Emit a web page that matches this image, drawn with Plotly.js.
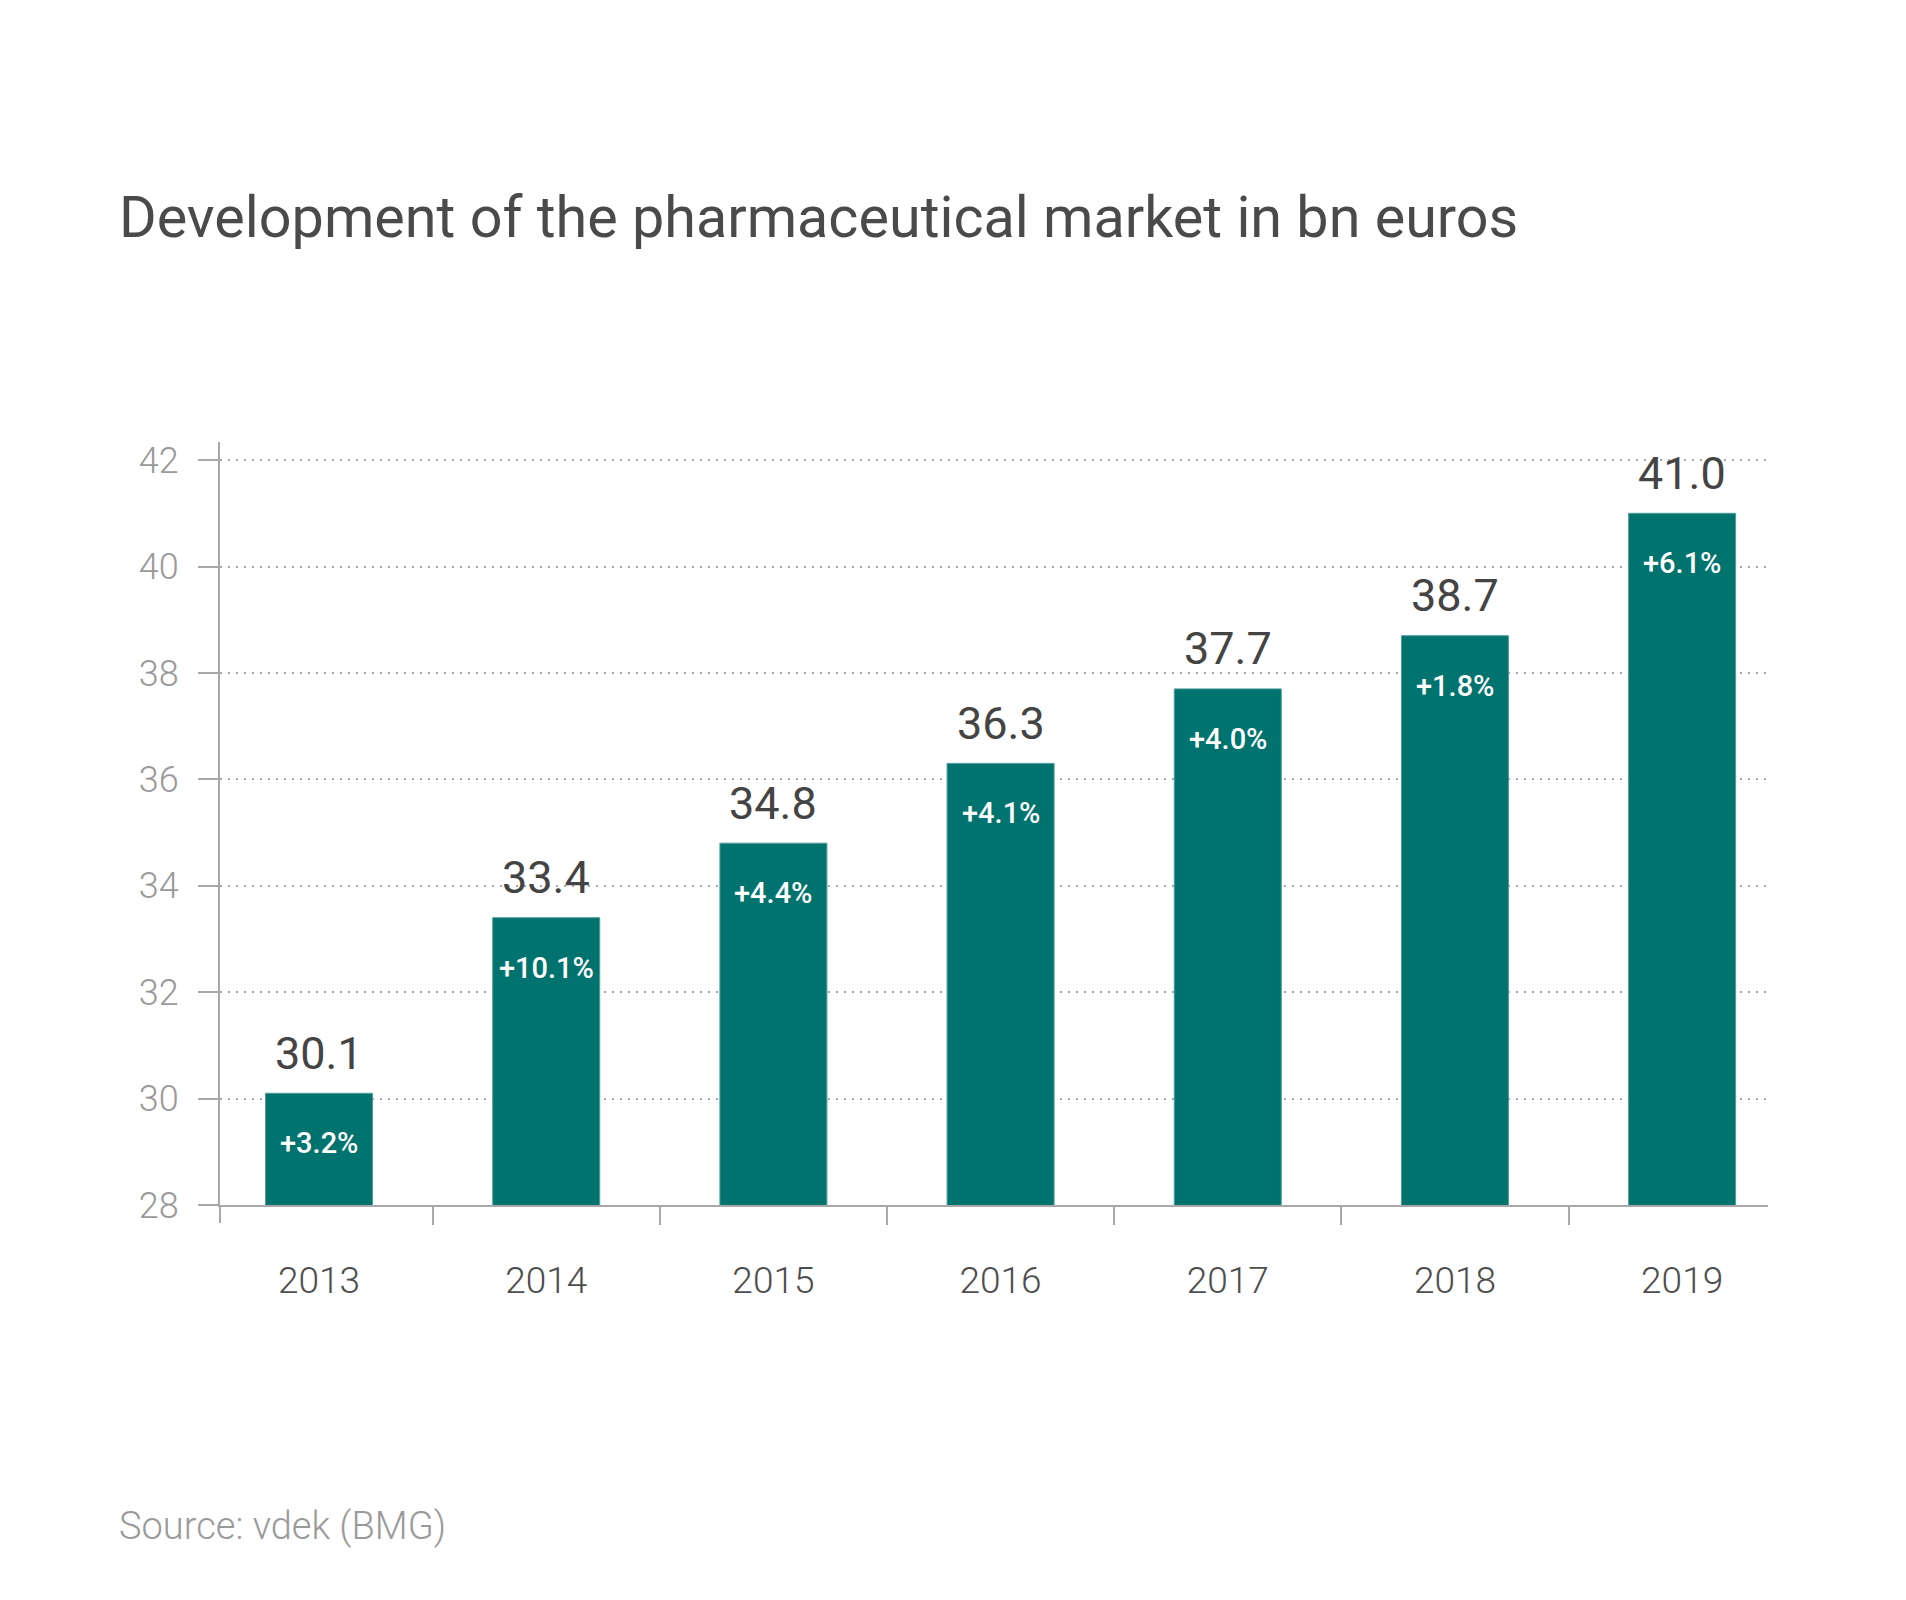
<!DOCTYPE html>
<html>
<head>
<meta charset="utf-8">
<script src="https://cdn.plot.ly/plotly-3.0.1.min.js"></script>
<style>
  html, body { margin: 0; padding: 0; background: #ffffff; }
  #chart { width: 1906px; height: 1600px; }
</style>
</head>
<body>
<div id="chart"></div>
<script>
// ---- data ----
const years = ['2013', '2014', '2015', '2016', '2017', '2018', '2019'];
const values = [30.1, 33.4, 34.8, 36.3, 37.7, 38.7, 41.0];
const growth = ['+3.2%', '+10.1%', '+4.4%', '+4.1%', '+4.0%', '+1.8%', '+6.1%'];
const yTicks = [28, 30, 32, 34, 36, 38, 40, 42];
const titleText = 'Development of the pharmaceutical market in bn euros';
const sourceText = 'Source: vdek (BMG)';

// ---- styles ----
const FONT = 'Roboto, "Noto Sans", sans-serif';
const TEAL = '#00736f';
const AXIS = '#a8a8a8';

const trace = {
  type: 'bar',
  x: years,
  y: values,
  width: 0.471,
  marker: { color: TEAL, line: { color: '#4f9d99', width: 1 } },
  hoverinfo: 'skip'
};

const annotations = [];
years.forEach((yr, i) => {
  // category axes place annotations by category index
  annotations.push({
    x: i, y: values[i], xref: 'x', yref: 'y',
    text: values[i].toFixed(1),
    showarrow: false, xanchor: 'center', yanchor: 'middle', yshift: 40,
    font: { family: FONT, size: 45, color: '#444444', weight: 400 }
  });
  annotations.push({
    x: i, y: values[i], xref: 'x', yref: 'y',
    text: growth[i],
    showarrow: false, xanchor: 'center', yanchor: 'middle', yshift: -50,
    font: { family: FONT, size: 29, color: '#ffffff', weight: 500 }
  });
});
annotations.push({
  x: (117 - 220) / 1548, y: (1205 - 1526) / 763, xref: 'paper', yref: 'paper',
  text: sourceText, showarrow: false, xanchor: 'left', yanchor: 'middle',
  font: { family: FONT, size: 38, color: '#9a9a9a', weight: 300 }
});

const layout = {
  width: 1906,
  height: 1600,
  margin: { l: 220, r: 138, t: 442, b: 395, pad: 0 },
  paper_bgcolor: '#ffffff',
  plot_bgcolor: '#ffffff',
  showlegend: false,
  title: {
    text: titleText,
    xref: 'container', yref: 'container',
    x: 119 / 1906, xanchor: 'left',
    y: 1 - 217 / 1600, yanchor: 'middle',
    font: { family: FONT, size: 57.5, color: '#4a4a4a', weight: 400 }
  },
  xaxis: {
    type: 'category',
    range: [-0.436, 6.378],
    showline: true, linecolor: AXIS, linewidth: 2,
    ticks: 'outside', tickson: 'boundaries', ticklen: 18, tickwidth: 2, tickcolor: AXIS,
    ticklabelstandoff: 42,
    tickfont: { family: FONT, size: 37, color: '#4d4d4d', weight: 300 },
    showgrid: false, zeroline: false, fixedrange: true
  },
  yaxis: {
    range: [28, 42.34],
    tickvals: yTicks,
    ticktext: yTicks.map(String),
    showline: true, linecolor: AXIS, linewidth: 2,
    ticks: 'outside', ticklen: 20, tickwidth: 2, tickcolor: AXIS,
    ticklabelstandoff: 12,
    tickfont: { family: FONT, size: 36, color: '#999999', weight: 300 },
    showgrid: true, gridcolor: '#a6a6a6', gridwidth: 2, griddash: '2px,6px',
    zeroline: false, fixedrange: true
  },
  shapes: [
    { type: 'line', xref: 'paper', yref: 'paper', x0: -15 / 1548, x1: 0, y0: 0, y1: 0,
      line: { color: AXIS, width: 2 } },
    { type: 'line', xref: 'paper', yref: 'paper', x0: 0, x1: 0, y0: 0, y1: -18 / 763,
      line: { color: AXIS, width: 2 } }
  ],
  annotations: annotations
};

Plotly.newPlot('chart', [trace], layout, { displayModeBar: false, staticPlot: true });
</script>
</body>
</html>
